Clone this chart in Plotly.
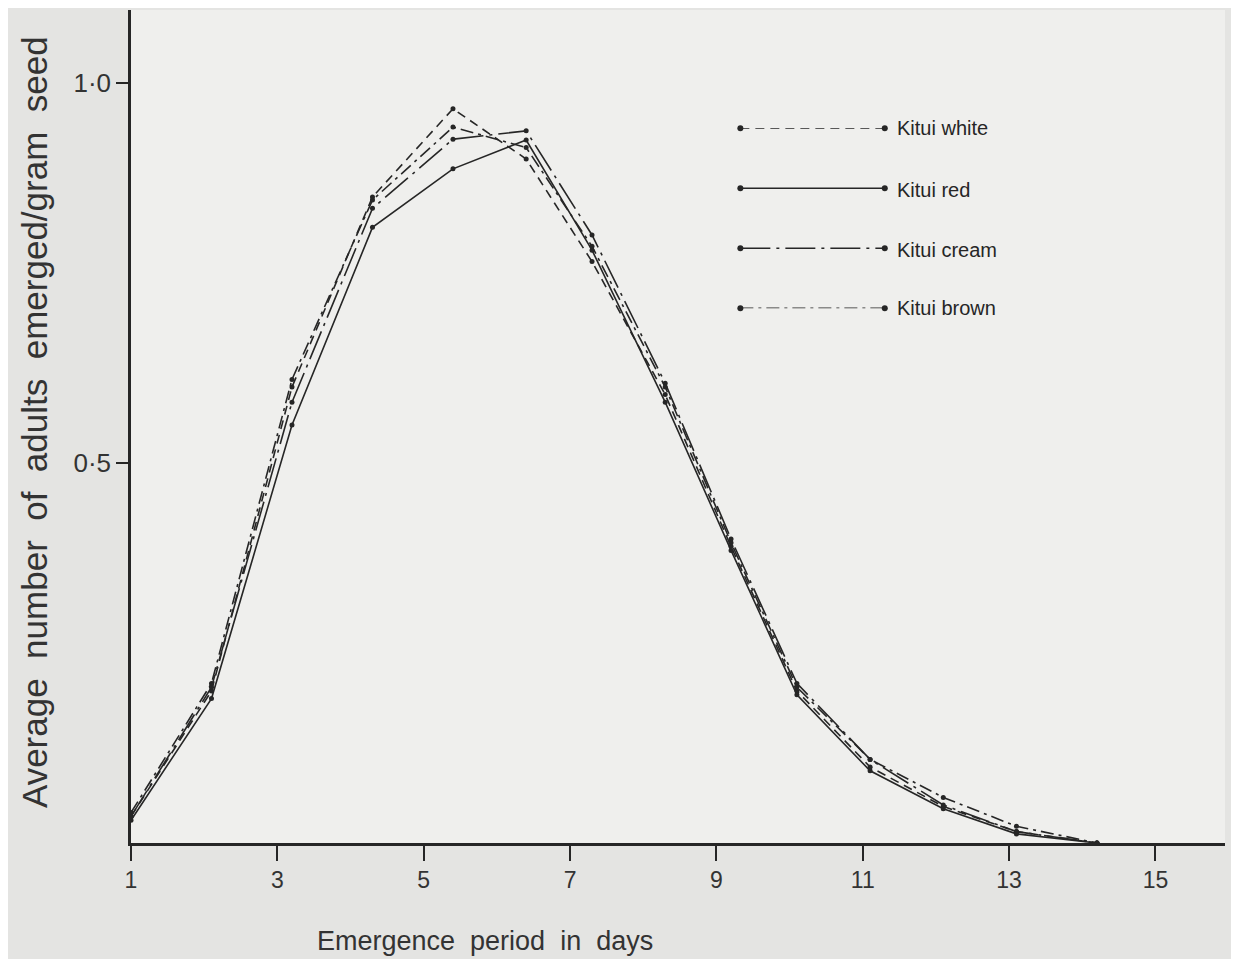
import plotly.graph_objects as go

days = [1, 2.1, 3.2, 4.3, 5.4, 6.4, 7.3, 8.3, 9.2, 10.1, 11.1, 12.1, 13.1, 14.2]
kitui_white = [0.035, 0.20, 0.60, 0.85, 0.966, 0.90, 0.765, 0.59, 0.39, 0.20, 0.10, 0.048, 0.015, 0.0]
kitui_red = [0.03, 0.19, 0.55, 0.81, 0.887, 0.925, 0.78, 0.58, 0.385, 0.195, 0.095, 0.045, 0.012, 0.0]
kitui_cream = [0.035, 0.205, 0.58, 0.835, 0.926, 0.937, 0.80, 0.605, 0.40, 0.21, 0.11, 0.05, 0.015, 0.0]
kitui_brown = [0.04, 0.21, 0.61, 0.846, 0.942, 0.915, 0.785, 0.60, 0.395, 0.205, 0.11, 0.06, 0.022, 0.0]

series_names = ["Kitui white", "Kitui red", "Kitui cream", "Kitui brown"]
x_ticks = [1, 3, 5, 7, 9, 11, 13, 15]
y_ticks = [0.5, 1.0]
y_tick_labels = ["0·5", "1·0"]

ink = "#262626"
dashes = ["9px,6px", "solid", "30px,6px,3px,6px", "13px,5px,3px,5px"]
series = [kitui_white, kitui_red, kitui_cream, kitui_brown]

fig = go.Figure()
for name, vals, d in zip(series_names, series, dashes):
    fig.add_trace(go.Scatter(
        x=days, y=vals, mode="lines+markers", name=name,
        line=dict(color=ink, width=1.6, dash=d),
        marker=dict(color=ink, size=5), showlegend=False, cliponaxis=False))

# legend key samples on a hidden overlay axis
rows = [3, 2, 1, 0]
row_paper_y = [0.858, 0.784, 0.712, 0.642]
for name, r, py, d in zip(series_names, rows, row_paper_y, dashes):
    fig.add_trace(go.Scatter(
        x=[0, 1], y=[r, r], mode="lines+markers", xaxis="x2", yaxis="y2",
        line=dict(color=ink, width=1.6, dash=d), cliponaxis=False,
        marker=dict(color=ink, size=6), showlegend=False, hoverinfo="skip"))
    fig.add_annotation(x=0.698, y=py, xref="paper", yref="paper", text=name,
                       showarrow=False, xanchor="left", yanchor="middle",
                       font=dict(size=20, color=ink, family="Liberation Sans"))

sp = " \u00a0"
fig.add_annotation(x=-0.088, y=0.505, xref="paper", yref="paper",
                   text=sp.join(["Average", "number", "of", "adults", "emerged/gram", "seed"]),
                   textangle=-90, showarrow=False, xanchor="center", yanchor="middle",
                   font=dict(size=35, color="#333333", family="Liberation Sans"))
fig.add_annotation(x=0.3236, y=-0.118, xref="paper", yref="paper",
                   text=sp.join(["Emergence", "period", "in", "days"]), showarrow=False,
                   xanchor="center", yanchor="middle",
                   font=dict(size=27, color="#333333", family="Liberation Sans"))

fig.update_layout(
    width=1223, height=951,
    margin=dict(l=123, r=6, t=2, b=116),
    paper_bgcolor="#e4e4e2", plot_bgcolor="#efefed",
    font=dict(family="Liberation Sans", color=ink),
    xaxis=dict(range=[1, 15.95], tickvals=x_ticks, ticks="outside", ticklen=15,
               tickwidth=2, tickcolor=ink, showline=True, linewidth=2.5, linecolor=ink,
               showgrid=False, zeroline=False, tickfont=dict(size=23, color="#333333")),
    yaxis=dict(range=[0, 1.096], tickvals=y_ticks, ticktext=y_tick_labels, ticks="outside",
               ticklen=12, tickwidth=2, tickcolor=ink, showline=True, linewidth=2.5,
               linecolor=ink, showgrid=False, zeroline=False,
               tickfont=dict(size=26, color="#333333")),
    xaxis2=dict(domain=[0.557, 0.689], range=[0, 1], visible=False, anchor="y2"),
    yaxis2=dict(domain=[0.642, 0.858], range=[0, 3], visible=False, anchor="x2"),
)

fig.write_html("out.html")
